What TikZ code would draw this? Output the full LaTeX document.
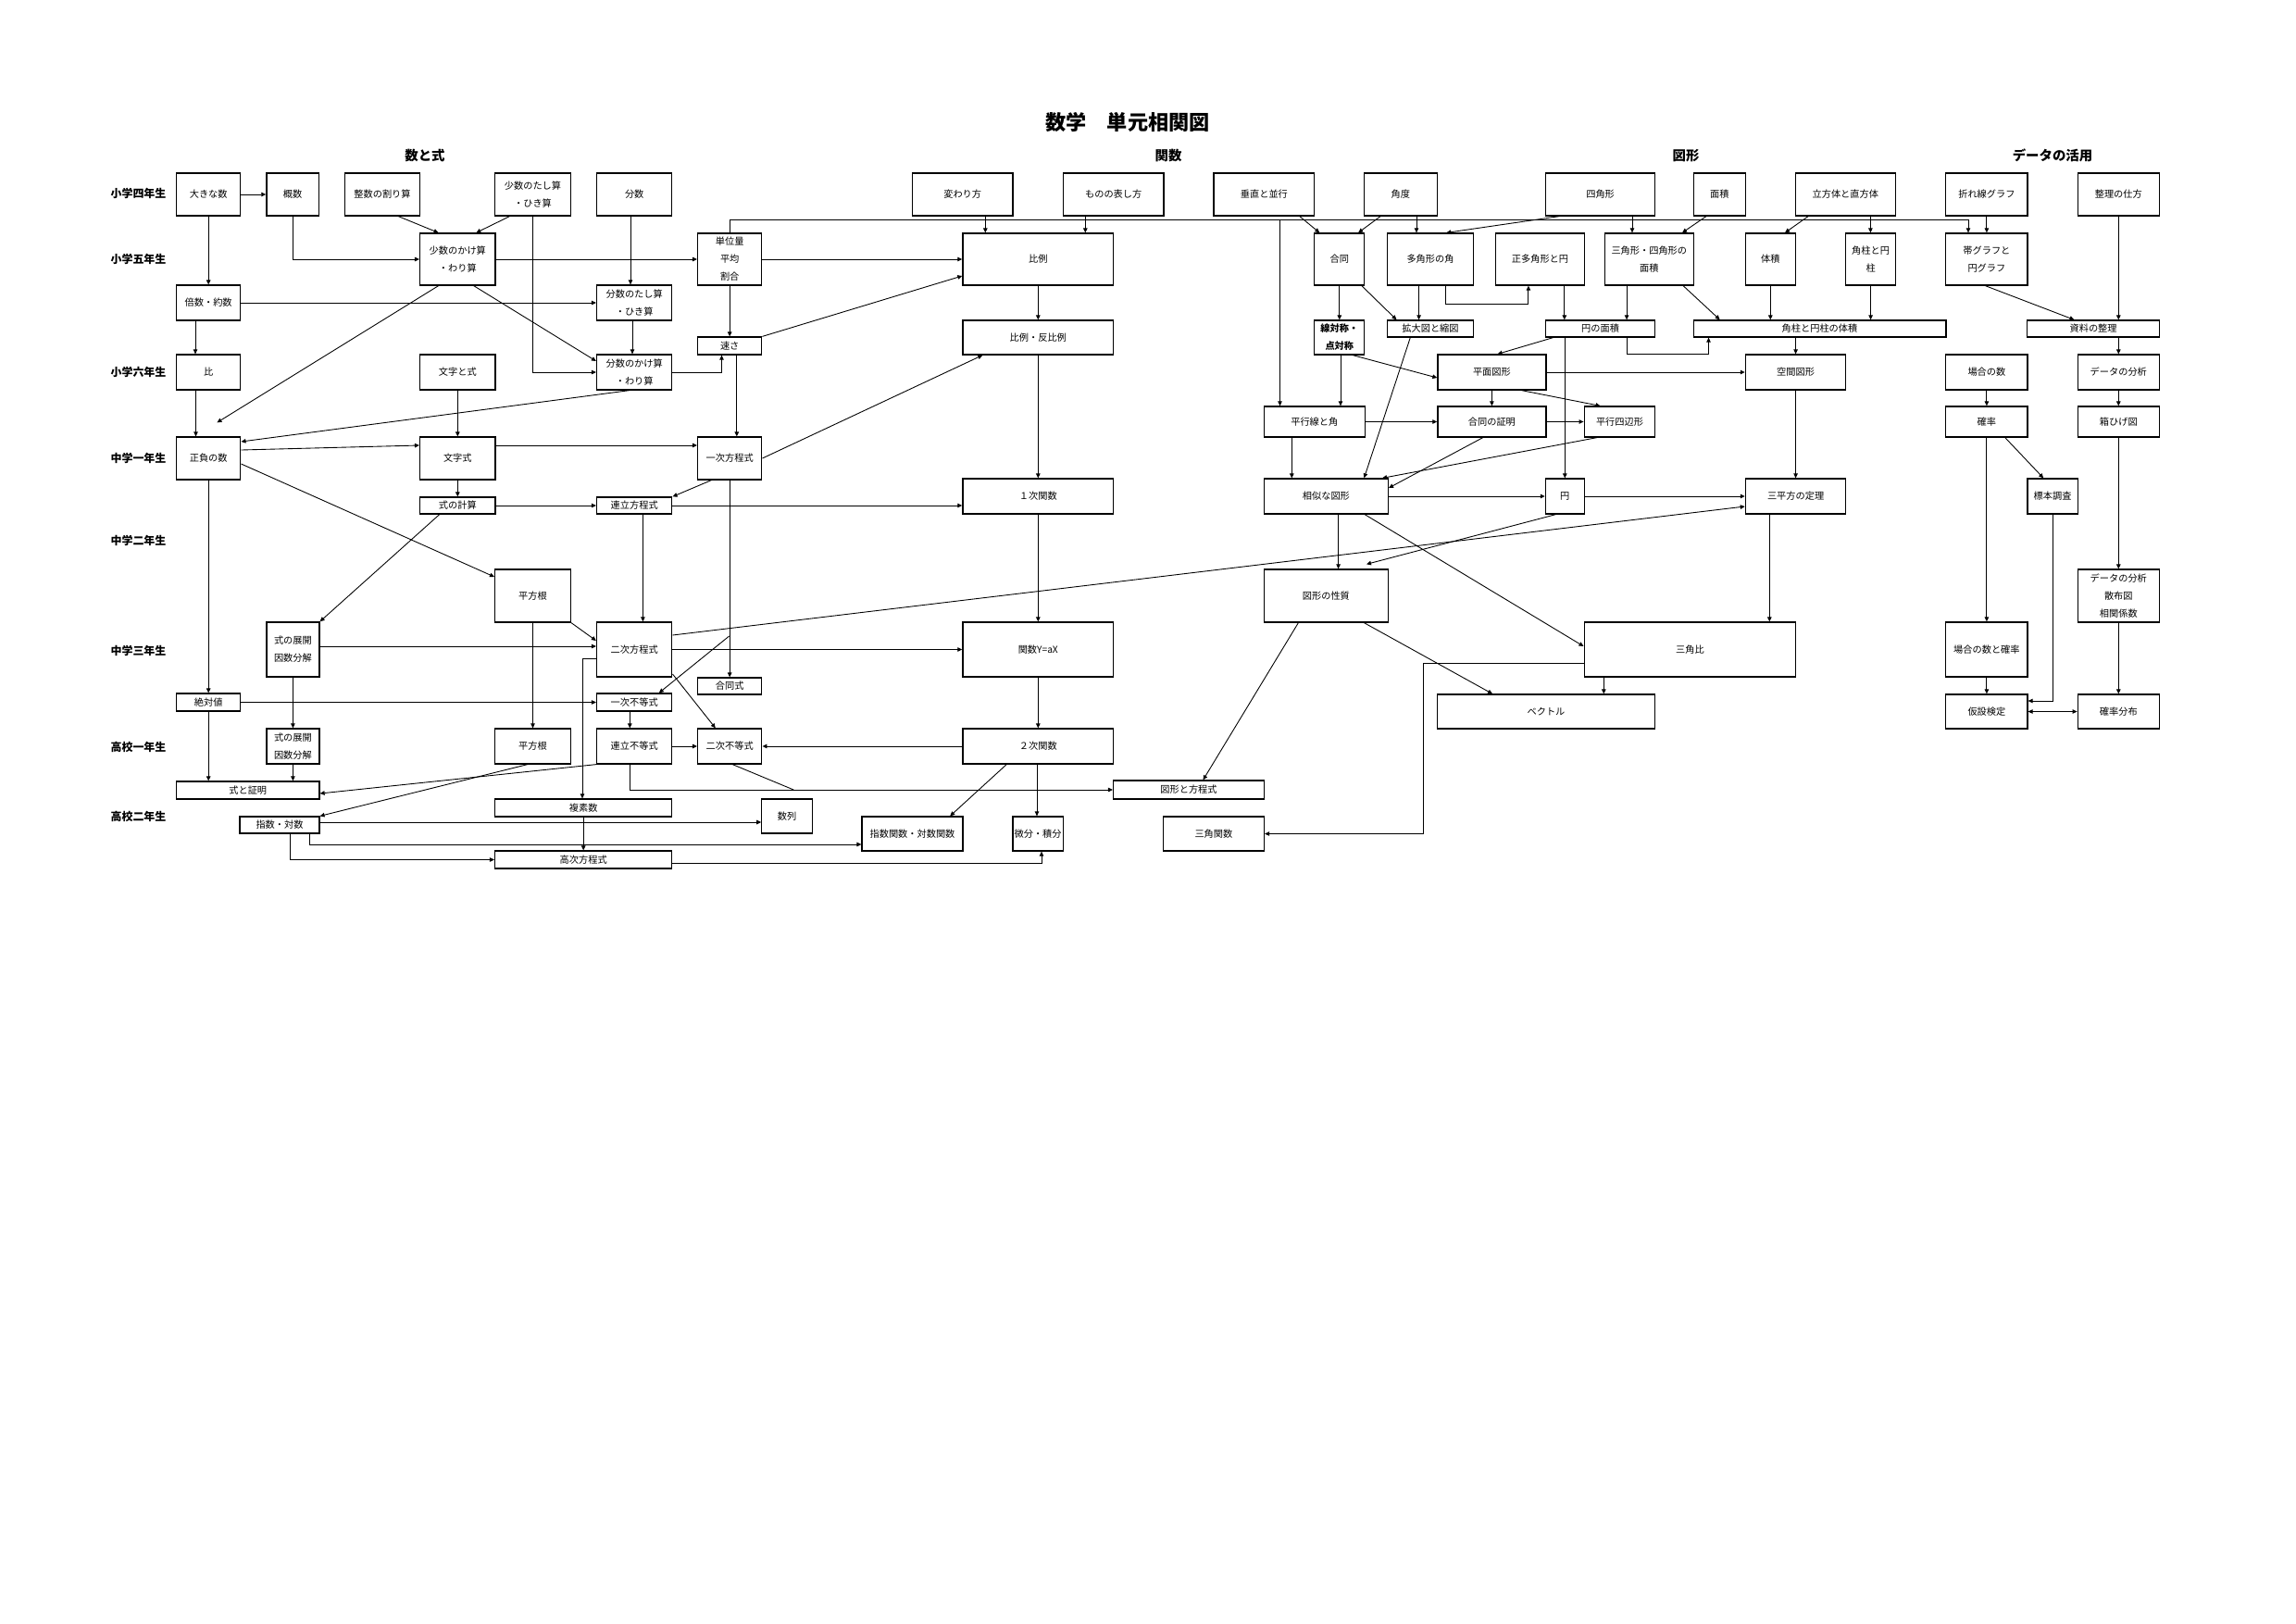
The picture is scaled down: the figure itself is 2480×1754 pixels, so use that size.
\documentclass[tikz,border=0pt]{standalone}
\usepackage{fontspec}
\newfontfamily\jp{Noto Sans CJK JP}
\usetikzlibrary{arrows.meta}

\begin{document}
\begin{tikzpicture}[
  x=0.01cm, y=-0.01cm,
  box/.style={draw, line width=0.35pt, inner sep=0pt, align=center,
    font=\jp\fontsize{2.9}{5.4}\selectfont},
  arr/.style={line width=0.25pt, -{Triangle[length=0.5mm,width=0.45mm]}},
  lnk/.style={line width=0.25pt},
  grade/.style={font=\jp\bfseries\fontsize{3.4}{4}\selectfont},
  area/.style={font=\jp\bfseries\fontsize{4.1}{5}\selectfont}
]
  \useasboundingbox (0,0) rectangle (2480,1754);

  % 見出し
  \node[font=\jp\bfseries\fontsize{6.3}{7}\selectfont] (title) at (1218,132) {数学　単元相関図};
  \node[area] (kazu) at (459,168) {数と式};
  \node[area] (kansuu) at (1262,168) {関数};
  \node[area] (zukei) at (1821,168) {図形};
  \node[area] (data) at (2217,168) {データの活用};

  % 学年
  \node[grade] (g4) at (149.5,209) {小学四年生};
  \node[grade] (g5) at (149.5,280) {小学五年生};
  \node[grade] (g6) at (149.5,402) {小学六年生};
  \node[grade] (c1) at (149.5,495) {中学一年生};
  \node[grade] (c2) at (149.5,584) {中学二年生};
  \node[grade] (c3) at (149.5,703) {中学三年生};
  \node[grade] (k1) at (149.5,807) {高校一年生};
  \node[grade] (k2) at (149.5,882) {高校二年生};

  % 小学四年生
  \node[box, minimum width=0.692cm, minimum height=0.46cm] (ookina) at (225.2,210) {大きな数};
  \node[box, minimum width=0.562cm, minimum height=0.46cm] (gaisu) at (316,210) {概数};
  \node[box, minimum width=0.813cm, minimum height=0.46cm] (seisuwari) at (413,210) {整数の割り算};
  \node[box, minimum width=0.818cm, minimum height=0.46cm] (shotasu) at (575.5,210) {少数のたし算\\・ひき算};
  \node[box, minimum width=0.813cm, minimum height=0.46cm] (bunsu) at (685.2,210) {分数};
  \node[box, minimum width=1.084cm, minimum height=0.46cm] (kawari) at (1039.7,210) {変わり方};
  \node[box, minimum width=1.087cm, minimum height=0.46cm] (mono) at (1202.7,210) {ものの表し方};
  \node[box, minimum width=1.087cm, minimum height=0.46cm] (suichoku) at (1365.4,210) {垂直と並行};
  \node[box, minimum width=0.788cm, minimum height=0.46cm] (kakudo) at (1512.8,210) {角度};
  \node[box, minimum width=1.184cm, minimum height=0.46cm] (shikaku) at (1728.6,210) {四角形};
  \node[box, minimum width=0.562cm, minimum height=0.46cm] (menseki) at (1857.3,210) {面積};
  \node[box, minimum width=1.083cm, minimum height=0.46cm] (rippo) at (1993.3,210) {立方体と直方体};
  \node[box, minimum width=0.881cm, minimum height=0.46cm] (oresen) at (2145.9,210) {折れ線グラフ};
  \node[box, minimum width=0.881cm, minimum height=0.46cm] (seiri) at (2288.3,210) {整理の仕方};

  % 小学五年生
  \node[box, minimum width=0.814cm, minimum height=0.56cm] (shokake) at (494.3,280) {少数のかけ算\\・わり算};
  \node[box, minimum width=0.692cm, minimum height=0.56cm] (tani) at (788.2,280) {単位量\\平均\\割合};
  \node[box, minimum width=1.627cm, minimum height=0.56cm] (hirei) at (1121.3,280) {比例};
  \node[box, minimum width=0.541cm, minimum height=0.56cm] (godo) at (1446.8,280) {合同};
  \node[box, minimum width=0.929cm, minimum height=0.56cm] (takaku) at (1545,280) {多角形の角};
  \node[box, minimum width=0.954cm, minimum height=0.56cm] (seitakaku) at (1663.5,280) {正多角形と円};
  \node[box, minimum width=0.958cm, minimum height=0.56cm] (sankakumen) at (1781.3,280) {三角形・四角形の\\面積};
  \node[box, minimum width=0.537cm, minimum height=0.56cm] (taiseki) at (1912.3,280) {体積};
  \node[box, minimum width=0.536cm, minimum height=0.56cm] (kakuchu) at (2020.6,280) {角柱と円\\柱};
  \node[box, minimum width=0.881cm, minimum height=0.56cm] (obi) at (2145.9,280) {帯グラフと\\円グラフ};
  \node[box, minimum width=0.692cm, minimum height=0.38cm] (baisu) at (225.2,327) {倍数・約数};
  \node[box, minimum width=0.813cm, minimum height=0.38cm] (bunsutasu) at (685.2,327) {分数のたし算\\・ひき算};
  \node[box, minimum width=1.627cm, minimum height=0.37cm] (hanpi) at (1121.3,364.5) {比例・反比例};
  \node[box, font=\jp\bfseries\fontsize{2.9}{5.4}\selectfont,
    minimum width=0.541cm, minimum height=0.37cm] (senta) at (1446.8,364.5) {線対称・\\点対称};
  \node[box, minimum width=0.929cm, minimum height=0.18cm] (kakudai) at (1545,355) {拡大図と縮図};
  \node[box, minimum width=1.184cm, minimum height=0.18cm] (ennomen) at (1728.6,355) {円の面積};
  \node[box, minimum width=2.726cm, minimum height=0.18cm] (kakutai) at (1965.5,355) {角柱と円柱の体積};
  \node[box, minimum width=1.424cm, minimum height=0.18cm] (shiryo) at (2261.1,355) {資料の整理};
  \node[box, minimum width=0.692cm, minimum height=0.19cm] (hayasa) at (788.2,373.5) {速さ};

  % 小学六年生
  \node[box, minimum width=0.692cm, minimum height=0.38cm] (hi) at (225.2,402) {比};
  \node[box, minimum width=0.814cm, minimum height=0.38cm] (mojito) at (494.3,402) {文字と式};
  \node[box, minimum width=0.813cm, minimum height=0.38cm] (bunkake) at (685.2,402) {分数のかけ算\\・わり算};
  \node[box, minimum width=1.169cm, minimum height=0.38cm] (heimen) at (1611.4,402) {平面図形};
  \node[box, minimum width=1.084cm, minimum height=0.38cm] (kukan) at (1939.6,402) {空間図形};
  \node[box, minimum width=0.881cm, minimum height=0.38cm] (baai) at (2145.9,402) {場合の数};
  \node[box, minimum width=0.881cm, minimum height=0.38cm] (bunseki) at (2288.3,402) {データの分析};
  \node[box, minimum width=1.087cm, minimum height=0.33cm] (heikosen) at (1419.8,455.5) {平行線と角};
  \node[box, minimum width=1.169cm, minimum height=0.33cm] (godoshomei) at (1611.4,455.5) {合同の証明};
  \node[box, minimum width=0.766cm, minimum height=0.33cm] (heikoshihen) at (1749.5,455.5) {平行四辺形};
  \node[box, minimum width=0.881cm, minimum height=0.33cm] (kakuritsu) at (2145.9,455.5) {確率};
  \node[box, minimum width=0.881cm, minimum height=0.33cm] (hakohige) at (2288.3,455.5) {箱ひげ図};

  % 中学
  \node[box, minimum width=0.692cm, minimum height=0.46cm] (seifu) at (225.2,495) {正負の数};
  \node[box, minimum width=0.814cm, minimum height=0.46cm] (mojishiki) at (494.3,495) {文字式};
  \node[box, minimum width=0.692cm, minimum height=0.46cm] (ichijihou) at (788.2,495) {一次方程式};
  \node[box, minimum width=1.627cm, minimum height=0.38cm] (ichijikan) at (1121.3,536) {１次関数};
  \node[box, minimum width=1.339cm, minimum height=0.38cm] (sojikei) at (1432.4,536) {相似な図形};
  \node[box, minimum width=0.418cm, minimum height=0.38cm] (en) at (1690.3,536) {円};
  \node[box, minimum width=1.084cm, minimum height=0.38cm] (sanheiho) at (1939.6,536) {三平方の定理};
  \node[box, minimum width=0.543cm, minimum height=0.38cm] (hyohon) at (2217.1,536) {標本調査};
  \node[box, minimum width=0.814cm, minimum height=0.18cm] (shikikei) at (494.3,546) {式の計算};
  \node[box, minimum width=0.813cm, minimum height=0.18cm] (renritsu) at (685.2,546) {連立方程式};
  \node[box, minimum width=0.818cm, minimum height=0.57cm] (heihokon) at (575.5,643.5) {平方根};
  \node[box, minimum width=1.339cm, minimum height=0.57cm] (seishitsu) at (1432.4,643.5) {図形の性質};
  \node[box, minimum width=0.881cm, minimum height=0.57cm] (bunseki2) at (2288.3,643.5) {データの分析\\散布図\\相関係数};
  \node[box, minimum width=0.57cm, minimum height=0.59cm] (tenkai) at (316.4,701.5) {式の展開\\因数分解};
  \node[box, minimum width=0.813cm, minimum height=0.59cm] (nijihou) at (685.2,701.5) {二次方程式};
  \node[box, minimum width=1.627cm, minimum height=0.59cm] (kansu) at (1121.3,701.5) {関数Y=aX};
  \node[box, minimum width=2.286cm, minimum height=0.59cm] (sankakuhi) at (1825.5,701.5) {三角比};
  \node[box, minimum width=0.881cm, minimum height=0.59cm] (baaikaku) at (2145.9,701.5) {場合の数と確率};
  \node[box, minimum width=0.692cm, minimum height=0.18cm] (godoshiki) at (788.2,741) {合同式};

  % 高校
  \node[box, minimum width=0.692cm, minimum height=0.19cm] (zettai) at (225.2,758.5) {絶対値};
  \node[box, minimum width=0.813cm, minimum height=0.19cm] (ichijifu) at (685.2,758.5) {一次不等式};
  \node[box, minimum width=2.356cm, minimum height=0.37cm] (vector) at (1670,768.5) {ベクトル};
  \node[box, minimum width=0.881cm, minimum height=0.37cm] (kasetsu) at (2145.9,768.5) {仮設検定};
  \node[box, minimum width=0.881cm, minimum height=0.37cm] (bunpu) at (2288.3,768.5) {確率分布};
  \node[box, minimum width=0.57cm, minimum height=0.38cm] (tenkai2) at (316.4,806) {式の展開\\因数分解};
  \node[box, minimum width=0.818cm, minimum height=0.38cm] (heihokon2) at (575.5,806) {平方根};
  \node[box, minimum width=0.813cm, minimum height=0.38cm] (renfu) at (685.2,806) {連立不等式};
  \node[box, minimum width=0.692cm, minimum height=0.38cm] (nijifu) at (788.2,806) {二次不等式};
  \node[box, minimum width=1.627cm, minimum height=0.38cm] (nijikan) at (1121.3,806) {２次関数};
  \node[box, minimum width=1.543cm, minimum height=0.19cm] (shikisho) at (267.8,853.5) {式と証明};
  \node[box, minimum width=1.628cm, minimum height=0.2cm] (zukeiho) at (1284,853) {図形と方程式};
  \node[box, minimum width=1.912cm, minimum height=0.19cm] (fukuso) at (630.2,872.5) {複素数};
  \node[box, minimum width=0.543cm, minimum height=0.37cm] (suretsu) at (850,881.5) {数列};
  \node[box, minimum width=0.858cm, minimum height=0.18cm] (shisu) at (302,891) {指数・対数};
  \node[box, minimum width=1.088cm, minimum height=0.37cm] (shisukan) at (985.5,900.5) {指数関数・対数関数};
  \node[box, minimum width=0.544cm, minimum height=0.37cm] (bibun) at (1121.1,900.5) {微分・積分};
  \node[box, minimum width=1.091cm, minimum height=0.37cm] (sankakukan) at (1310.9,900.5) {三角関数};
  \node[box, minimum width=1.912cm, minimum height=0.19cm] (koji) at (630.2,928.5) {高次方程式};

  % 分岐点
  \coordinate (tbus) at (1382.5,237);
  \coordinate (jbr) at (787.6,687);
  \coordinate (njoin) at (857.2,853);

  % 数と式
  \draw[arr] (ookina) -- (gaisu);
  \draw[arr] (ookina) -- (baisu);
  \draw[arr] (gaisu.south) |- (shokake.west);
  \draw[arr] (seisuwari.south -| 430.3,0) -- (shokake.north -| 473.6,0);
  \draw[arr] (shotasu.south -| 550.5,0) -- (shokake.north -| 514.3,0);
  \draw[arr] (shotasu.south) |- (bunkake.west);
  \draw[arr] (shokake) -- (tani);
  \draw[arr] (shokake.south -| 473.6,0) -- ([xshift=-0.26cm,yshift=0.15cm]seifu.north east);
  \draw[arr] (shokake.south -| 511.7,0) -- (bunkake.west |- 0,390);
  \draw[arr] (baisu) -- (bunsutasu);
  \draw[arr] (baisu.south -| 211,0) -- (hi.north -| 211,0);
  \draw[arr] (bunsu.south -| 681,0) -- (bunsutasu.north -| 681,0);
  \draw[arr] (bunsutasu.south -| 683,0) -- (bunkake.north -| 683,0);
  \draw[arr] (tani.north) |- (2126,237) -- (obi.north -| 2126,0);
  \draw[arr] (tbus) -- (heikosen.north -| tbus);
  \draw[arr] (tani) -- (hayasa);
  \draw[arr] (bunkake.east) -| (hayasa.south -| 779.5,0);
  \draw[arr] (hi.south -| 211.5,0) -- (seifu.north -| 211.5,0);
  \draw[arr] (bunkake.south -| 680,0) -- (seifu.east |- 0,477);
  \draw[arr] (mojito) -- (mojishiki);
  \draw[arr] (seifu.east |- 0,486) -- (mojishiki.west |- 0,481);
  \draw[arr] (mojishiki.east |- 0,481) -- (ichijihou.west |- 0,481);
  \draw[arr] (seifu.east |- 0,501) -- (heihokon.west |- 0,623);
  \draw[arr] (mojishiki) -- (shikikei);
  \draw[arr] (shikikei) -- (renritsu);
  \draw[arr] (shikikei.south -| 474.7,0) -- (tenkai.north east);
  \draw[arr] (heihokon.south east) -- (nijihou.west |- 0,692);
  \draw[arr] (heihokon) -- (heihokon2);
  \draw[arr] (tenkai.east |- 0,698) -- (nijihou.west |- 0,698);
  \draw[arr] (seifu) -- (zettai);
  \draw[arr] (hayasa.south -| 795.8,0) -- (ichijihou.north -| 795.8,0);
  \draw[arr] (ichijihou.south -| 768.4,0) -- (renritsu.north east);
  \draw[arr] (renritsu.south -| 694.4,0) -- (nijihou.north -| 694.4,0);
  \draw[arr] (ichijihou) -- (godoshiki);
  \draw[arr] (jbr) -- (ichijifu.north -| 711.8,0);
  \draw[arr] (nijihou.north east |- 0,686) -- (sanheiho.west |- 0,547);
  \draw[arr] (tenkai) -- (tenkai2);
  \draw[arr] (zettai) -- (ichijifu);
  \draw[arr] (zettai.south) -- (zettai.south |- shikisho.north);
  \draw[arr] (tenkai2.south) -- (tenkai2.south |- shikisho.north);
  \draw[arr] (renfu.south west) -- (shikisho.east |- 0,857);
  \draw[arr] (heihokon2.south -| 569.8,0) -- (shisu.north east);
  \draw[arr] (nijihou.west |- 0,711) -- (629,711) -- (fukuso.north -| 629,0);
  \draw[arr] (fukuso) -- (koji);
  \draw[arr] (shisu.east |- 0,888) -- (suretsu.west |- 0,888);
  \draw[arr] (shisu.south -| 334,0) |- (shisukan.west |- 0,912);
  \draw[arr] (shisu.south -| 313.4,0) |- (koji.west);
  \draw[arr] (koji.east |- 0,932) -| (bibun.south -| 1125,0);
  \draw[arr] (nijihou) -- (kansu);
  \draw[arr] (nijihou.east |- 0,728) -- (nijifu.north -| 772.8,0);
  \draw[arr] (ichijifu.south -| 680.3,0) -- (renfu.north -| 680.3,0);
  \draw[arr] (renfu) -- (nijifu);
  \draw[arr] (nijikan) -- (nijifu);
  \draw[arr] (renfu.south -| 680.3,0) |- (zukeiho.west |- 0,853);
  \draw[lnk] (nijifu.south -| 791.3,0) -- (njoin);

  % 関数
  \draw[arr] (kawari.south -| 1064.3,0) -- (hirei.north -| 1064.3,0);
  \draw[arr] (mono.south -| 1172.3,0) -- (hirei.north -| 1172.3,0);
  \draw[arr] (tani) -- (hirei);
  \draw[arr] (hayasa.north east) -- (hirei.west |- 0,298);
  \draw[arr] (hirei) -- (hanpi);
  \draw[arr] (ichijihou.east) -- (hanpi.south -| 1061.3,0);
  \draw[arr] (hanpi) -- (ichijikan);
  \draw[arr] (renritsu.east) -- (ichijikan.west |- renritsu.east);
  \draw[arr] (ichijikan) -- (kansu);
  \draw[arr] (kansu) -- (nijikan);
  \draw[arr] (nijikan.south -| 1087.2,0) -- (shisukan.north -| 1026.2,0);
  \draw[arr] (nijikan.south -| 1120,0) -- (bibun.north -| 1120,0);

  % 図形
  \draw[arr] (suichoku.south -| 1403.8,0) -- (godo.north -| 1425.3,0);
  \draw[arr] (kakudo.south -| 1491.1,0) -- (godo.north -| 1467.1,0);
  \draw[arr] (kakudo.south -| 1530,0) -- (takaku.north -| 1530,0);
  \draw[arr] (shikaku.south -| 1684.2,0) -- (takaku.north -| 1562.2,0);
  \draw[arr] (shikaku.south -| 1763,0) -- (sankakumen.north -| 1763,0);
  \draw[arr] (godo) -- (senta);
  \draw[arr] (godo.south -| 1470.8,0) -- (kakudai.north -| 1508.5,0);
  \draw[arr] (takaku.south -| 1532.6,0) -- (kakudai.north -| 1532.6,0);
  \draw[arr] (takaku.south -| 1561,0) -- (1561,328) -| (seitakaku.south -| 1650.9,0);
  \draw[arr] (seitakaku.south -| 1689.8,0) -- (ennomen.north -| 1689.8,0);
  \draw[arr] (sankakumen.south -| 1757.1,0) -- (ennomen.north -| 1757.1,0);
  \draw[arr] (ennomen.south -| 1677.6,0) -- (heimen.north -| 1617.6,0);
  \draw[arr] (ennomen.south -| 1757.1,0) -- (1757.1,382) -| (kakutai.south -| 1845.5,0);
  \draw[arr] (ennomen.south -| en.north) -- (en.north);
  \draw[arr] (senta.south -| 1461.2,0) -- (heimen.west |- 0,408);
  \draw[arr] (senta.south -| 1448,0) -- (heikosen.north -| 1448,0);
  \draw[arr] (kakudai.south -| 1523.3,0) -- (sojikei.north -| 1473.4,0);
  \draw[arr] (heimen) -- (kukan);
  \draw[arr] (menseki.south -| 1842.9,0) -- (sankakumen.north -| 1817,0);
  \draw[arr] (rippo.south -| 1953.1,0) -- (taiseki.north -| 1928,0);
  \draw[arr] (rippo.south -| 2020.4,0) -- (kakuchu.north -| 2020.4,0);
  \draw[arr] (sankakumen.south -| 1818.1,0) -- (kakutai.north -| 1857.7,0);
  \draw[arr] (taiseki.south) -- (taiseki.south |- kakutai.north);
  \draw[arr] (kakuchu.south) -- (kakuchu.south |- kakutai.north);
  \draw[arr] (kukan.north |- kakutai.south) -- (kukan.north);
  \draw[arr] (heimen) -- (godoshomei);
  \draw[arr] (heimen.south -| 1643.5,0) -- (heikoshihen.north -| 1728.6,0);
  \draw[arr] (heikosen) -- (godoshomei);
  \draw[arr] (godoshomei) -- (heikoshihen);
  \draw[arr] (heikosen.south -| 1395.3,0) -- (sojikei.north -| 1395.3,0);
  \draw[arr] (godoshomei.south -| 1601.7,0) -- (sojikei.east |- 0,527);
  \draw[arr] (heikoshihen.south -| 1724.9,0) -- ([xshift=-0.07cm]sojikei.north east);
  \draw[arr] (sojikei) -- (en);
  \draw[arr] (en) -- (sanheiho);
  \draw[arr] (sojikei.south -| 1445.6,0) -- (seishitsu.north -| 1445.6,0);
  \draw[arr] (en.south -| 1680.5,0) -- ([xshift=-0.24cm,yshift=0.05cm]seishitsu.north east);
  \draw[arr] (sojikei.south -| 1474.1,0) -- (sankakuhi.west |- 0,698);
  \draw[arr] (seishitsu.south -| 1402.4,0) -- (zukeiho.north -| 1299.5,0);
  \draw[arr] (seishitsu.south -| 1473.4,0) -- (vector.north -| 1612.1,0);
  \draw[arr] (sankakuhi.south -| 1732.3,0) -- (vector.north -| 1732.3,0);
  \draw[arr] (sankakuhi.west |- 0,716) -- (1537.4,716) |- (sankakukan.east);
  \draw[arr] (kukan) -- (sanheiho);
  \draw[arr] (sanheiho.south -| 1911.3,0) -- (sankakuhi.north -| 1911.3,0);

  % データの活用
  \draw[arr] (oresen) -- (obi);
  \draw[arr] (obi.south -| 2144.4,0) -- (shiryo.north -| 2240.5,0);
  \draw[arr] (seiri.south) -- (seiri.south |- shiryo.north);
  \draw[arr] (bunseki.north |- shiryo.south) -- (bunseki.north);
  \draw[arr] (baai) -- (kakuritsu);
  \draw[arr] (bunseki) -- (hakohige);
  \draw[arr] (kakuritsu) -- (baaikaku);
  \draw[arr] (kakuritsu.south -| 2165.8,0) -- (hyohon.north -| 2207.2,0);
  \draw[arr] (hakohige) -- (bunseki2);
  \draw[arr] (hyohon.south) |- (kasetsu.east |- 0,757);
  \draw[arr] (bunseki2) -- (bunpu);
  \draw[arr] (baaikaku) -- (kasetsu);
  \draw[line width=0.25pt, {Triangle[length=0.5mm,width=0.45mm]}-{Triangle[length=0.5mm,width=0.45mm]}] (kasetsu) -- (bunpu);
\end{tikzpicture}
\end{document}
